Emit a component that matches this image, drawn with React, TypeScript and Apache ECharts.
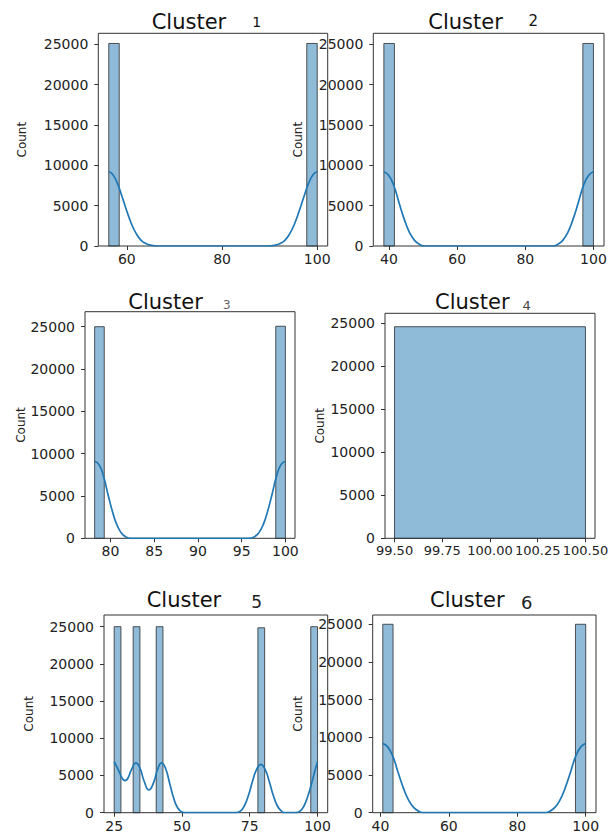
import React, { useEffect, useRef } from "react";
import * as echarts from "echarts";

// ---- data ----
const clusterLabels = ["1", "2", "3", "4", "5", "6"];
const yTicks = [0, 5000, 10000, 15000, 20000, 25000];

// x-axis ticks per panel
const xTicks1 = [60, 80, 100];
const xTicks2 = [40, 60, 80, 100];
const xTicks3 = [80, 85, 90, 95, 100];
const xTicks4 = [99.5, 99.75, 100, 100.25, 100.5];
const xTicks5 = [25, 50, 75, 100];
const xTicks6 = [40, 60, 80, 100];

// axis ranges [xmin, xmax, ymax]
const range1 = [54.0, 102.2, 26360];
const range2 = [35.4, 103.1, 26360];
const range3 = [77.1, 101.1, 26770];
const range4 = [99.45, 100.55, 26160];
const range5 = [21.25, 103.75, 26570];
const range6 = [37.75, 103.0, 26230];

// histogram bins: [binStart, binEnd, count]
const bins1 = [[56.2, 58.4, 25100], [97.8, 100, 25100]];
const bins2 = [[38.5, 41.6, 25100], [96.9, 100, 25100]];
const bins3 = [[78.2, 79.3, 25000], [98.9, 100, 25050]];
const bins4 = [[99.5, 100.5, 24600]];
const bins5 = [[25, 27.5, 25000], [32, 34.5, 25000], [40.5, 43, 25000], [78, 80.5, 24850], [97.5, 100, 25000]];
const bins6 = [[40.7, 43.7, 25000], [97, 100, 25000]];

// KDE curves: [x, count]
const kde1 = [[56.2, 9200], [57, 8900], [58, 7800], [59, 6100], [60, 4300], [61, 2700], [62, 1500], [63, 700], [64, 300], [65, 100], [66.5, 0], [89.7, 0], [91.2, 100], [92.2, 300], [93.2, 700], [94.2, 1500], [95.2, 2700], [96.2, 4300], [97.2, 6100], [98.2, 7800], [99.2, 8900], [100, 9200]];
const kde2 = [[38.5, 9200], [40, 8700], [41.5, 7400], [43, 5300], [44.5, 3300], [46, 1700], [47.5, 700], [49, 200], [50.5, 0], [88, 0], [89.5, 200], [91, 700], [92.5, 1700], [94, 3300], [95.5, 5300], [97, 7400], [98.5, 8700], [100, 9200]];
const kde3 = [[78.2, 9100], [78.7, 8700], [79.2, 7400], [79.7, 5300], [80.2, 3300], [80.7, 1700], [81.2, 700], [81.7, 200], [82.4, 0], [95.8, 0], [96.5, 200], [97, 700], [97.5, 1700], [98, 3300], [98.5, 5300], [99, 7400], [99.5, 8700], [100, 9100]];
const kde5 = [[25, 6850], [26.5, 5800], [28, 4600], [29, 4300], [30, 4600], [31.5, 5900], [33, 6700], [34.5, 6000], [36, 4300], [37.8, 3050], [39.5, 4000], [41, 5800], [42.5, 6700], [44, 5900], [45.5, 3900], [47, 1900], [48.5, 600], [50, 100], [51.5, 0], [70, 0], [71.5, 200], [73, 900], [74.5, 2300], [76, 4200], [77.5, 5800], [79.1, 6500], [80.7, 5800], [82.2, 4200], [83.7, 2300], [85.2, 900], [86.7, 200], [88, 0], [92, 0], [93.5, 200], [95, 900], [96.5, 2300], [98, 4200], [99, 5600], [100, 6850]];
const kde6 = [[40.7, 9200], [42.2, 8700], [43.7, 7400], [45.2, 5300], [46.7, 3300], [48.2, 1700], [49.7, 700], [51.2, 200], [52.7, 0], [88, 0], [89.5, 200], [91, 700], [92.5, 1700], [94, 3300], [95.5, 5300], [97, 7400], [98.5, 8700], [100, 9200]];

// ---- layout / style ----
const FONT = "DejaVu Sans";
const BAR_FILL = "rgba(31,119,180,0.5)";
const BAR_EDGE = "#2b2b2b";
const LINE = "#1f77b4";

const panels = [
  { grid: { left: 98.3, top: 33.3, width: 229.4, height: 212.7 }, xt: xTicks1, r: range1, bins: bins1, kde: kde1, nameGap: 70, title: { x: 151.7, y: 21.7, nx: 256.7, ny: 21.7, ns: 14, nc: "#111" } },
  { grid: { left: 373.3, top: 33.3, width: 230.7, height: 212.7 }, xt: xTicks2, r: range2, bins: bins2, kde: kde2, nameGap: 69, title: { x: 428.3, y: 21.7, nx: 533.3, ny: 21, ns: 15, nc: "#111" } },
  { grid: { left: 85, top: 311.7, width: 210, height: 226.6 }, xt: xTicks3, r: range3, bins: bins3, kde: kde3, nameGap: 57, title: { x: 128.3, y: 301.7, nx: 226.7, ny: 305, ns: 12, nc: "#666" } },
  { grid: { left: 385, top: 313.3, width: 210, height: 225 }, xt: xTicks4, r: range4, bins: bins4, kde: null, nameGap: 59, title: { x: 435, y: 301.7, nx: 526.7, ny: 305, ns: 13, nc: "#444" } },
  { grid: { left: 104, top: 615, width: 223.7, height: 197.7 }, xt: xTicks5, r: range5, bins: bins5, kde: kde5, nameGap: 69, title: { x: 146.7, y: 600, nx: 256.7, ny: 602.3, ns: 17, nc: "#222" } },
  { grid: { left: 372.7, top: 615, width: 223.3, height: 197.7 }, xt: xTicks6, r: range6, bins: bins6, kde: kde6, nameGap: 69, title: { x: 430, y: 600, nx: 526.7, ny: 602, ns: 18, nc: "#222" } },
];

export default function App() {
  const ref = useRef<HTMLDivElement>(null);

  useEffect(() => {
    if (!ref.current) return;
    const chart = echarts.init(ref.current, undefined, { renderer: "svg" });

    const grids: any[] = [];
    const xAxes: any[] = [];
    const yAxes: any[] = [];
    const series: any[] = [];
    const graphics: any[] = [];

    panels.forEach((p, i) => {
      grids.push({
        ...p.grid,
        show: true,
        borderColor: "#333",
        borderWidth: 1,
        backgroundColor: "transparent",
        containLabel: false,
      });
      const isP4 = i === 3;
      xAxes.push({
        type: "value",
        gridIndex: i,
        min: p.r[0],
        max: p.r[1],
        splitLine: { show: false },
        axisLine: { show: false },
        axisTick: { show: true, length: 4, lineStyle: { color: "#333" }, customValues: p.xt },
        axisLabel: {
          customValues: p.xt,
          fontFamily: FONT,
          fontSize: isP4 ? 13 : 14,
          color: "#222",
          margin: 6,
          formatter: (v: number) => (isP4 ? v.toFixed(2) : String(v)),
        },
      });
      yAxes.push({
        type: "value",
        gridIndex: i,
        min: 0,
        max: p.r[2],
        name: "Count",
        nameLocation: "middle",
        nameRotate: 90,
        nameGap: p.nameGap,
        nameTextStyle: { fontFamily: FONT, fontSize: 12, color: "#222" },
        splitLine: { show: false },
        axisLine: { show: false },
        axisTick: { show: true, length: 4, lineStyle: { color: "#333" }, customValues: yTicks },
        axisLabel: {
          customValues: yTicks,
          fontFamily: FONT,
          fontSize: 14,
          color: "#222",
          margin: 10,
          formatter: (v: number) => String(v),
        },
      });
      series.push({
        type: "custom",
        xAxisIndex: i,
        yAxisIndex: i,
        encode: { x: [0, 1], y: 2 },
        data: p.bins,
        z: 2,
        renderItem: (_params: any, api: any) => {
          const x0 = api.value(0);
          const x1 = api.value(1);
          const c = api.value(2);
          const a = api.coord([x0, c]);
          const b = api.coord([x1, 0]);
          return {
            type: "rect",
            shape: { x: a[0], y: a[1], width: b[0] - a[0], height: b[1] - a[1] },
            style: { fill: BAR_FILL, stroke: BAR_EDGE, lineWidth: 0.8 },
          };
        },
      });
      if (p.kde) {
        series.push({
          type: "line",
          xAxisIndex: i,
          yAxisIndex: i,
          data: p.kde,
          showSymbol: false,
          smooth: 0.5,
          z: 3,
          lineStyle: { color: LINE, width: 1.7 },
        });
      }
      graphics.push({
        type: "text",
        x: p.title.x,
        y: p.title.y,
        style: { text: "Cluster", fontFamily: FONT, fontSize: 21, fill: "#111", textAlign: "left", textVerticalAlign: "middle" },
      });
      graphics.push({
        type: "text",
        x: p.title.nx,
        y: p.title.ny,
        style: { text: clusterLabels[i], fontFamily: FONT, fontSize: p.title.ns, fill: p.title.nc, textAlign: "center", textVerticalAlign: "middle" },
      });
    });

    chart.setOption({
      animation: false,
      backgroundColor: "#fff",
      grid: grids,
      xAxis: xAxes,
      yAxis: yAxes,
      series,
      graphic: graphics,
    });

    return () => chart.dispose();
  }, []);

  return <div ref={ref} style={{ position: "fixed", left: 0, top: 0, width: 614, height: 834 }} />;
}
